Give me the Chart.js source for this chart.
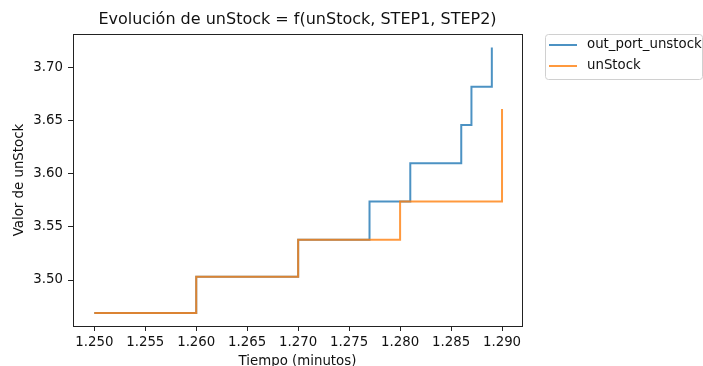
<!DOCTYPE html>
<html lang="es">
<head>
    <meta charset="UTF-8">
    <title>Evolución de unStock</title>
    <script src="https://cdn.jsdelivr.net/npm/chart.js"></script>
    <style>
        body { margin: 0; padding: 0; background: #fff; }
        canvas { display: block; }
    </style>
</head>
<body>
    <canvas id="stockChart" width="703" height="366"></canvas>

    <script>
        // datos
        const tiempoPort = [1.250, 1.260, 1.270, 1.277, 1.281, 1.286, 1.287, 1.289];
        const valorPort = [3.469, 3.503, 3.538, 3.574, 3.610, 3.646, 3.682, 3.719];
        const tiempoStock = [1.250, 1.260, 1.270, 1.280, 1.290];
        const valorStock = [3.469, 3.503, 3.538, 3.574, 3.661];
        const xTicks = [1.250, 1.255, 1.260, 1.265, 1.270, 1.275, 1.280, 1.285, 1.290];
        const yTicks = [3.50, 3.55, 3.60, 3.65, 3.70];

        const FONT = 'DejaVu Sans';
        const TXT = '#111';

        // marco completo del área (spines de matplotlib)
        const frame = {
            id: 'frame',
            afterDraw(chart) {
                const { left, top, right, bottom } = chart.chartArea;
                const c = chart.ctx;
                c.save();
                c.strokeStyle = '#222';
                c.lineWidth = 1;
                c.strokeRect(Math.round(left) + 0.5, Math.round(top) + 0.5,
                    Math.round(right - left), Math.round(bottom - top));
                c.restore();
            }
        };

        // leyenda fuera del área, estilo matplotlib
        const legendBox = {
            id: 'legendBox',
            afterDraw(chart) {
                const c = chart.ctx;
                c.save();
                c.fillStyle = 'rgba(255,255,255,0.8)';
                c.strokeStyle = '#d0d0d0';
                c.lineWidth = 1;
                c.beginPath();
                c.roundRect(545.5, 34.5, 157, 45, 3);
                c.fill();
                c.stroke();
                c.font = '13.33px "' + FONT + '"';
                c.textBaseline = 'middle';
                chart.data.datasets.forEach((ds, i) => {
                    const y = 45 + i * 21;
                    c.strokeStyle = ds.borderColor;
                    c.lineWidth = 2;
                    c.beginPath();
                    c.moveTo(549, y);
                    c.lineTo(577, y);
                    c.stroke();
                    c.fillStyle = TXT;
                    c.fillText(ds.label, 587, y);
                });
                c.restore();
            }
        };

        const chart = new Chart(document.getElementById('stockChart'), {
            type: 'line',
            data: {
                datasets: [{
                    label: 'out_port_unstock',
                    data: tiempoPort.map((t, i) => ({ x: t, y: valorPort[i] })),
                    borderColor: 'rgba(31,119,180,0.8)',
                    borderWidth: 2,
                    stepped: 'before',
                    pointRadius: 0,
                    fill: false,
                    order: 1
                }, {
                    label: 'unStock',
                    data: tiempoStock.map((t, i) => ({ x: t, y: valorStock[i] })),
                    borderColor: 'rgba(255,127,14,0.8)',
                    borderWidth: 2,
                    stepped: 'before',
                    pointRadius: 0,
                    fill: false,
                    order: 0
                }]
            },
            options: {
                responsive: false,
                animation: false,
                layout: { padding: { left: 0, right: 181, top: 0, bottom: 0 } },
                plugins: {
                    legend: { display: false },
                    tooltip: { enabled: false },
                    title: {
                        display: true,
                        fullSize: false,
                        text: 'Evolución de unStock = f(unStock, STEP1, STEP2)',
                        color: TXT,
                        font: { family: FONT, size: 16, weight: 'normal', lineHeight: 1.2 },
                        padding: { top: 10, bottom: 4.8 }
                    }
                },
                scales: {
                    x: {
                        type: 'linear',
                        min: 1.24791,
                        max: 1.29196,
                        afterBuildTicks: s => { s.ticks = xTicks.map(v => ({ value: v })); },
                        afterFit: s => { s.height = 40; },
                        ticks: {
                            color: TXT,
                            padding: 4,
                            maxRotation: 0,
                            font: { family: FONT, size: 13.33 },
                            callback: v => v.toFixed(3)
                        },
                        grid: { drawOnChartArea: false, drawTicks: true, tickLength: 5, color: '#222' },
                        border: { color: '#222', width: 1 },
                        title: {
                            display: true,
                            text: 'Tiempo (minutos)',
                            color: TXT,
                            font: { family: FONT, size: 13.33 },
                            padding: { top: 0, bottom: -4 }
                        }
                    },
                    y: {
                        min: 3.4567,
                        max: 3.7317,
                        afterBuildTicks: s => { s.ticks = yTicks.map(v => ({ value: v })); },
                        afterFit: s => { s.width = 73; },
                        ticks: {
                            color: TXT,
                            padding: 5,
                            font: { family: FONT, size: 13.33 },
                            callback: v => v.toFixed(2)
                        },
                        grid: { drawOnChartArea: false, drawTicks: true, tickLength: 5, color: '#222' },
                        border: { color: '#222', width: 1 },
                        title: {
                            display: true,
                            text: 'Valor de unStock',
                            color: TXT,
                            font: { family: FONT, size: 13.33 },
                            padding: { top: 11.5, bottom: 0 }
                        }
                    }
                }
            },
            plugins: [frame, legendBox]
        });
    </script>
</body>
</html>
